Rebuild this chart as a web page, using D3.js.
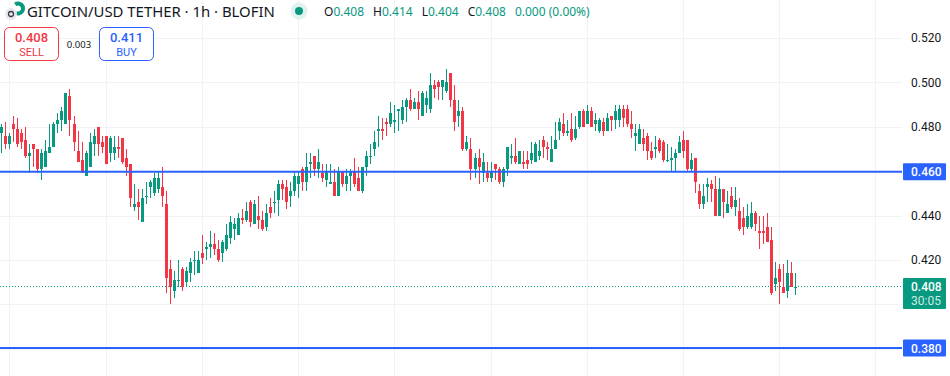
<!DOCTYPE html>
<html>
<head>
<meta charset="utf-8">
<script src="https://cdn.jsdelivr.net/npm/d3@7"></script>
<style>
  html, body {margin: 0; padding: 0; background: #fff; overflow: hidden;}
  svg {display: block;}
  text {font-family: "Noto Sans", sans-serif;}
  .axis-y text {font-family: Roboto, sans-serif; font-size: 12px; fill: #131722;}
  .tag-text {font-family: Roboto, sans-serif;}
</style>
</head>
<body>
<div id="chart"></div>
<script>
// 1h candles, left to right
const opens = [
  .477,.476,.472,.481,.479,.477,.474,.467,.472,.470,.461,.462,.468,.471,.481,.483,.481,.494,.481,.469,
  .465,.458,.462,.472,.480,.473,.476,.468,.468,.471,.475,.466,.463,.444,.446,.437,.449,.453,.450,.452,
  .453,.445,.416,.406,.411,.416,.410,.414,.420,.414,.423,.425,.426,.427,.425,.423,.425,.430,.434,.431,
  .439,.438,.446,.436,.440,.438,.435,.444,.446,.447,.454,.453,.449,.451,.454,.461,.455,.463,.467,.461,
  .459,.456,.454,.455,.449,.460,.454,.458,.460,.457,.451,.462,.467,.470,.478,.479,.482,.481,.482,.487,
  .483,.489,.492,.488,.491,.485,.490,.488,.499,.500,.498,.496,.504,.492,.485,.487,.470,.470,.461,.466,
  .459,.459,.457,.463,.461,.455,.461,.466,.467,.463,.464,.465,.465,.464,.467,.474,.471,.464,.470,.478,
  .481,.477,.479,.475,.480,.487,.481,.487,.481,.478,.482,.478,.485,.483,.483,.488,.488,.481,.476,.472,
  .475,.476,.469,.470,.474,.473,.465,.465,.466,.468,.474,.474,.461,.466,.451,.445,.453,.454,.452,.440,
  .452,.441,.449,.444,.442,.439,.435,.435,.441,.433,.433,.435,.429,.409,.416,.408,.406,.414,.408
];
const highs = [
  .481,.482,.477,.485,.484,.479,.480,.472,.472,.470,.470,.474,.481,.482,.486,.489,.495,.497,.485,.478,
  .473,.469,.477,.479,.480,.476,.476,.476,.476,.476,.475,.470,.463,.454,.452,.452,.455,.456,.459,.460,
  .462,.451,.420,.415,.420,.417,.417,.421,.424,.424,.431,.428,.433,.432,.429,.429,.436,.440,.439,.441,
  .443,.446,.447,.447,.449,.442,.445,.448,.451,.456,.456,.456,.455,.460,.460,.462,.468,.468,.467,.470,
  .463,.463,.463,.461,.462,.460,.461,.461,.466,.462,.462,.469,.472,.478,.485,.484,.484,.491,.490,.488,
  .492,.493,.497,.493,.496,.496,.496,.504,.501,.501,.501,.506,.504,.499,.492,.489,.476,.475,.468,.470,
  .468,.464,.464,.463,.462,.462,.471,.472,.475,.469,.469,.469,.473,.473,.474,.476,.473,.476,.482,.484,
  .486,.483,.486,.485,.487,.488,.490,.489,.486,.484,.484,.486,.485,.490,.490,.490,.490,.487,.481,.481,
  .479,.477,.473,.476,.475,.474,.472,.471,.470,.476,.478,.474,.468,.466,.454,.454,.457,.456,.458,.457,
  .452,.451,.453,.453,.448,.444,.445,.446,.442,.440,.440,.441,.435,.419,.418,.418,.420,.419,.414
];
const lows = [
  .468,.470,.470,.473,.471,.470,.466,.459,.462,.459,.456,.462,.468,.471,.477,.478,.481,.476,.469,.464,
  .459,.458,.462,.467,.467,.468,.463,.464,.465,.466,.463,.458,.444,.442,.438,.437,.445,.448,.449,.450,
  .444,.405,.400,.403,.408,.406,.408,.410,.413,.414,.418,.420,.421,.422,.419,.419,.424,.427,.429,.431,
  .436,.437,.435,.436,.434,.433,.433,.439,.441,.440,.447,.443,.444,.449,.448,.451,.451,.457,.458,.457,
  .455,.453,.454,.449,.449,.453,.451,.451,.453,.451,.450,.458,.463,.467,.471,.474,.476,.480,.477,.478,
  .481,.482,.487,.488,.483,.485,.486,.486,.493,.492,.492,.495,.489,.478,.480,.469,.469,.456,.457,.454,
  .455,.455,.455,.456,.454,.453,.458,.463,.463,.463,.461,.461,.463,.464,.465,.466,.465,.464,.470,.474,
  .476,.476,.473,.474,.479,.480,.481,.480,.478,.477,.476,.478,.478,.479,.480,.480,.480,.475,.469,.472,
  .469,.465,.465,.466,.468,.464,.464,.460,.460,.468,.466,.460,.460,.450,.443,.443,.446,.446,.440,.440,
  .439,.441,.443,.440,.433,.431,.434,.434,.433,.425,.427,.428,.404,.406,.400,.405,.403,.408,.404
];
const closes = [
  .480,.472,.476,.479,.472,.473,.467,.468,.470,.461,.468,.469,.471,.481,.483,.487,.495,.483,.473,.464,
  .459,.468,.473,.476,.472,.471,.463,.475,.471,.470,.464,.462,.448,.445,.444,.448,.449,.455,.457,.457,
  .449,.412,.408,.411,.411,.408,.415,.419,.420,.420,.421,.426,.427,.425,.420,.428,.431,.437,.436,.439,
  .438,.442,.437,.445,.438,.434,.441,.441,.446,.454,.452,.446,.451,.458,.458,.455,.462,.464,.461,.464,
  .457,.460,.455,.449,.460,.454,.458,.460,.454,.451,.462,.467,.467,.473,.479,.478,.481,.486,.483,.488,
  .489,.492,.488,.491,.488,.495,.493,.499,.497,.498,.501,.500,.492,.482,.487,.470,.473,.461,.466,.462,
  .464,.457,.460,.461,.455,.461,.471,.467,.464,.469,.463,.463,.468,.472,.469,.471,.470,.470,.474,.482,
  .477,.478,.474,.479,.487,.480,.487,.480,.483,.483,.478,.484,.483,.487,.488,.484,.481,.479,.477,.479,
  .472,.469,.466,.471,.469,.465,.465,.466,.468,.473,.469,.461,.465,.455,.445,.449,.454,.452,.440,.452,
  .446,.445,.444,.447,.434,.435,.440,.441,.436,.432,.432,.428,.405,.412,.410,.405,.414,.408,.408
];
const priceTicks = [0.52, 0.50, 0.48, 0.44, 0.42];
const gridPrices = [0.52, 0.50, 0.48, 0.46, 0.44, 0.42, 0.40, 0.38];
const gridBars = [2, 26, 50, 74, 98, 122, 146, 170, 194, 218];
const levelLines = [0.4597, 0.3803];
const lastPrice = 0.408;
const ohlcLabels = ["O", "H", "L", "C"];
const ohlcValues = ["0.408", "0.414", "0.404", "0.408"];

const W = 950, H = 376;
const green = "#089981", red = "#f23645", blue = "#2962ff", ink = "#131722";
const plotRight = 902;

const svg = d3.select("#chart").append("svg")
  .attr("width", W)
  .attr("height", H)
  .attr("viewBox", "0 0 " + W + " " + H);

const x = d3.scaleLinear().domain([0, 198]).range([1.33, 795.3]);
const y = d3.scaleLinear().domain([0.40, 0.52]).range([304.3, 37.9]);

// grid
const grid = svg.append("g").attr("shape-rendering", "crispEdges");
grid.selectAll(".gy").data(gridPrices).enter().append("line")
  .attr("x1", 0).attr("x2", plotRight)
  .attr("y1", d => Math.round(y(d)) + 0.5).attr("y2", d => Math.round(y(d)) + 0.5)
  .attr("stroke", "#f1f2f5");
grid.selectAll(".gx").data(gridBars).enter().append("line")
  .attr("y1", 0).attr("y2", H)
  .attr("x1", d => Math.round(x(d)) + 0.5).attr("x2", d => Math.round(x(d)) + 0.5)
  .attr("stroke", "#f1f2f5");

// last price dotted line
svg.append("line")
  .attr("x1", 0).attr("x2", plotRight)
  .attr("y1", y(lastPrice)).attr("y2", y(lastPrice))
  .attr("stroke", green)
  .attr("stroke-dasharray", "1 2");

// candles
const candles = opens.map((o, i) => ({i: i, o: o, h: highs[i], l: lows[i], c: closes[i]}));
const color = d => d.c < d.o ? red : green;
const gc = svg.append("g").attr("shape-rendering", "crispEdges");
gc.selectAll(".wick").data(candles).enter().append("rect")
  .attr("class", "wick")
  .attr("x", d => Math.round(x(d.i)))
  .attr("width", 1)
  .attr("y", d => y(d.h))
  .attr("height", d => y(d.l) - y(d.h))
  .attr("fill", color);
gc.selectAll(".body").data(candles).enter().append("rect")
  .attr("class", "body")
  .attr("x", d => Math.round(x(d.i)) - 1)
  .attr("width", 3)
  .attr("y", d => y(Math.max(d.o, d.c)))
  .attr("height", d => Math.max(1, Math.abs(y(d.o) - y(d.c))))
  .attr("fill", color);

// horizontal levels
svg.selectAll(".level").data(levelLines).enter().append("line")
  .attr("x1", 0).attr("x2", plotRight)
  .attr("y1", d => y(d)).attr("y2", d => y(d))
  .attr("stroke", blue)
  .attr("stroke-width", 2);

// price axis
const yAxis = d3.axisRight(y)
  .tickValues(priceTicks)
  .tickSize(0)
  .tickPadding(8)
  .tickFormat(d3.format(".3f"));
svg.append("g")
  .attr("class", "axis-y")
  .attr("transform", "translate(903,0)")
  .call(yAxis)
  .call(g => g.select(".domain").remove());

// level tags
const tags = svg.selectAll(".tag").data(levelLines).enter().append("g")
  .attr("transform", d => "translate(903," + y(d) + ")");
tags.append("rect")
  .attr("y", -8.5).attr("width", 43).attr("height", 17).attr("rx", 1)
  .attr("fill", blue);
tags.append("text")
  .attr("class", "tag-text")
  .attr("x", 8).attr("y", 4.5)
  .attr("fill", "#fff").attr("font-size", 12).attr("font-weight", 500)
  .text(d => d3.format(".3f")(d));

// last price tag
const lastTag = svg.append("g").attr("transform", "translate(903," + y(lastPrice) + ")");
lastTag.append("rect")
  .attr("y", -8.5).attr("width", 43).attr("height", 31).attr("rx", 1)
  .attr("fill", green);
lastTag.append("text")
  .attr("class", "tag-text")
  .attr("x", 8).attr("y", 4)
  .attr("fill", "#fff").attr("font-size", 12).attr("font-weight", 500)
  .text(d3.format(".3f")(lastPrice));
lastTag.append("text")
  .attr("class", "tag-text")
  .attr("x", 8).attr("y", 18.5)
  .attr("fill", "#fff").attr("fill-opacity", 0.8).attr("font-size", 12)
  .text("30:05");

// logo
const logo = svg.append("g");
logo.append("path")
  .attr("transform", "translate(18,8.5)")
  .attr("d", d3.arc().innerRadius(3).outerRadius(7).startAngle(-0.6).endAngle(3.6)())
  .attr("fill", green);
logo.append("circle").attr("cx", 11).attr("cy", 14).attr("r", 6).attr("fill", "#e6e8ee");
logo.append("circle").attr("cx", 11).attr("cy", 14).attr("r", 2.5)
  .attr("fill", "none").attr("stroke", "#3a3f4c").attr("stroke-width", 1.3);

// title
svg.append("text")
  .attr("x", 27).attr("y", 16.5)
  .attr("font-size", 14.9).attr("fill", ink)
  .text("GITCOIN/USD TETHER · 1h · BLOFIN");

// market open dot
svg.append("circle").attr("cx", 299).attr("cy", 11).attr("r", 8.5).attr("fill", "#e0f2ef");
svg.append("circle").attr("cx", 299).attr("cy", 11).attr("r", 4).attr("fill", green);

// ohlc legend
const legend = svg.append("text")
  .attr("x", 324).attr("y", 15.5)
  .attr("font-size", 12);
ohlcLabels.forEach((k, i) => {
  legend.append("tspan").attr("fill", ink).attr("dx", i ? 9 : 0).text(k);
  legend.append("tspan").attr("fill", green).text(ohlcValues[i]);
});
legend.append("tspan").attr("fill", green).attr("dx", 9).text("0.000 (0.00%)");

// sell / buy boxes
const boxes = [
  {x: 4.5, c: red, v: "0.408", t: "SELL"},
  {x: 99.5, c: blue, v: "0.411", t: "BUY"}
];
const box = svg.selectAll(".box").data(boxes).enter().append("g")
  .attr("transform", d => "translate(" + d.x + ",27.5)");
box.append("rect")
  .attr("width", 54).attr("height", 33).attr("rx", 5)
  .attr("fill", "#fff").attr("stroke", d => d.c);
box.append("text")
  .attr("class", "tag-text")
  .attr("x", 27).attr("y", 14.5)
  .attr("text-anchor", "middle").attr("font-size", 13).attr("font-weight", 500)
  .attr("fill", d => d.c).text(d => d.v);
box.append("text")
  .attr("class", "tag-text")
  .attr("x", 27).attr("y", 28.2)
  .attr("text-anchor", "middle").attr("font-size", 11)
  .attr("fill", d => d.c).text(d => d.t);
svg.append("text")
  .attr("x", 79).attr("y", 48)
  .attr("text-anchor", "middle").attr("font-size", 9.5).attr("fill", ink)
  .text("0.003");
</script>
</body>
</html>
